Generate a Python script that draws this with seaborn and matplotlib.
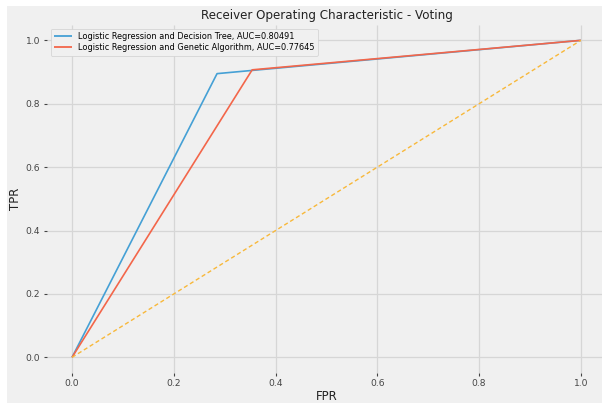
import matplotlib
matplotlib.use("Agg")
import matplotlib.pyplot as plt
import seaborn as sns
import pandas as pd
from matplotlib.patches import Rectangle

# Data
fpr_dt = [0.0, 0.285, 1.0]
tpr_dt = [0.0, 0.895, 1.0]
fpr_ga = [0.0, 0.354, 1.0]
tpr_ga = [0.0, 0.907, 1.0]
diag = [0.0, 1.0]
label_dt = "Logistic Regression and Decision Tree, AUC=0.80491"
label_ga = "Logistic Regression and Genetic Algorithm, AUC=0.77645"
ticks = [0.0, 0.2, 0.4, 0.6, 0.8, 1.0]

plt.style.use("fivethirtyeight")
bg = "#f0f0f0"
fig = plt.figure(figsize=(6.02, 4.03), dpi=100, facecolor="white")
fig.patches.append(Rectangle((7 / 602, 0), 1, 1 - 6 / 403, transform=fig.transFigure,
                             facecolor=bg, edgecolor="none", zorder=-10))
W, H = 602, 403
left, right, top, bottom = 46.6, 606.3, 24.5, 373.2
ax = fig.add_axes([left / W, 1 - bottom / H, (right - left) / W, (bottom - top) / H])
ax.set_facecolor(bg)

blue = "#45a0d5"
red = "#f3664a"
sns.lineplot(x=fpr_dt, y=tpr_dt, ax=ax, color=blue, linewidth=1.2,
             label=label_dt, sort=False, estimator=None)
sns.lineplot(x=fpr_ga, y=tpr_ga, ax=ax, color=red, linewidth=1.2,
             label=label_ga, sort=False, estimator=None)
ax.plot(diag, diag, color="#f8b83a", linestyle="--", linewidth=1.0, dashes=(3, 2))

ax.set_xlim(-0.05, 1.05)
ax.set_ylim(-0.05, 1.05)
ax.set_xticks(ticks)
ax.set_yticks(ticks)
ax.tick_params(axis="both", labelsize=6.6, colors="#444444", length=2.5, width=0.8,
               pad=2, direction="out", labelcolor="#444444")
ax.grid(True, color="#d6d6d6", linewidth=0.9)
for s in ax.spines.values():
    s.set_visible(False)

ax.set_title("Receiver Operating Characteristic - Voting", fontsize=8.6, pad=4, color="#222222")
ax.set_xlabel("FPR", fontsize=8.5, labelpad=1, color="#222222")
ax.set_ylabel("TPR", fontsize=8.5, labelpad=3, color="#222222")

leg = ax.legend(loc="upper left", fontsize=5.85, frameon=True, facecolor=bg,
                edgecolor="#d0d0d0", framealpha=1.0, handlelength=2.2,
                borderpad=0.4, labelspacing=0.3)
for line in leg.get_lines():
    line.set_linewidth(1.3)

fig.savefig("out.png", dpi=100, facecolor=fig.get_facecolor())
